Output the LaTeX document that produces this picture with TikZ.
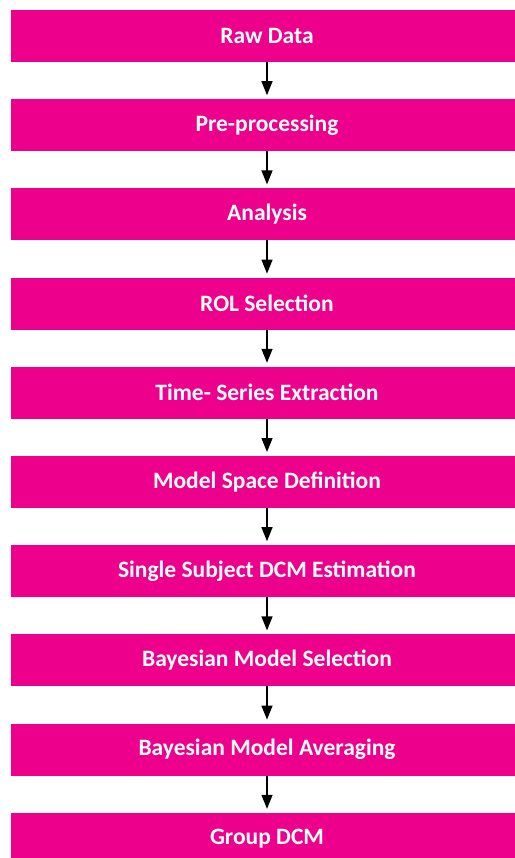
\documentclass[tikz,border=0pt]{standalone}
\usepackage{fontspec}
\setmainfont{Carlito}
\usepackage{tikz}
\usetikzlibrary{positioning,arrows.meta}

\definecolor{stepmagenta}{HTML}{EC008C}
\tikzset{
	stage/.style={fill=stepmagenta, text=white, font=\bfseries\fontsize{23.5pt}{28pt}\selectfont,
		minimum width=512pt, minimum height=52pt, inner sep=0pt, outer sep=0pt}
}

\begin{document}
\begin{tikzpicture}[-{Triangle[length=14pt,width=11pt]}, line width=1.3pt, node distance=37.2pt]
		\useasboundingbox (0pt,0pt) rectangle (514pt,-858pt);
		\node[stage, anchor=north] (raw) at (267pt,-10pt) {Raw Data};
		\node[stage] (pre) [below=of raw] {Pre-processing};
		\node[stage] (ana) [below=of pre] {Analysis};
		\node[stage] (rol) [below=of ana] {ROL Selection};
		\node[stage] (ts) [below=of rol] {Time- Series Extraction};
		\node[stage] (msd) [below=of ts] {Model Space Definition};
		\node[stage] (ssd) [below=of msd] {Single Subject DCM Estimation};
		\node[stage] (bms) [below=of ssd] {Bayesian Model Selection};
		\node[stage] (bma) [below=of bms] {Bayesian Model Averaging};
		\node[stage] (grp) [below=of bma] {Group DCM};
		\path[shorten >=4pt] (raw) edge (pre)
		      (pre) edge (ana)
		      (ana) edge (rol)
		      (rol) edge (ts)
		      (ts) edge (msd)
		      (msd) edge (ssd)
		      (ssd) edge (bms)
		      (bms) edge (bma)
		      (bma) edge (grp);
	\end{tikzpicture}
\end{document}
